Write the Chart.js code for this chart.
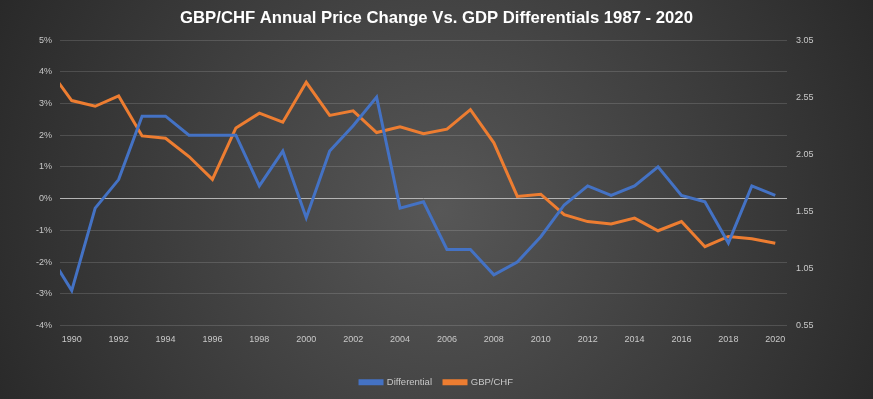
<!DOCTYPE html>
<html>
<head>
<meta charset="utf-8">
<script src="https://cdn.jsdelivr.net/npm/chart.js@4/dist/chart.umd.min.js"></script>
<style>
html,body{margin:0;padding:0;background:#262626;}
#wrap{width:873px;height:399px;position:relative;}
</style>
</head>
<body>
<div id="wrap"><canvas id="c" width="873" height="399"></canvas></div>
<script>
const years = [1989,1990,1991,1992,1993,1994,1995,1996,1997,1998,1999,2000,2001,2002,2003,2004,2005,2006,2007,2008,2009,2010,2011,2012,2013,2014,2015,2016,2017,2018,2019,2020];
const differential = [-1.7,-2.9,-0.3,0.6,2.6,2.6,2.0,2.0,2.0,0.4,1.5,-0.6,1.5,2.3,3.2,-0.3,-0.1,-1.6,-1.6,-2.4,-2.0,-1.2,-0.2,0.4,0.1,0.4,1.0,0.1,-0.1,-1.4,0.4,0.1];
const gbpchf = [2.80,2.52,2.47,2.56,2.21,2.19,2.03,1.83,2.28,2.41,2.33,2.68,2.39,2.43,2.24,2.29,2.23,2.27,2.44,2.15,1.68,1.70,1.52,1.46,1.44,1.49,1.38,1.46,1.24,1.33,1.31,1.27];
const xTicks = [1990,1992,1994,1996,1998,2000,2002,2004,2006,2008,2010,2012,2014,2016,2018,2020];
const leftTicks = [-4,-3,-2,-1,0,1,2,3,4,5];
const rightTicks = [0.55,1.05,1.55,2.05,2.55,3.05];

const bgPlugin = {
  id:'bg',
  beforeDraw(chart){
    const ctx = chart.ctx, w = chart.width, h = chart.height;
    ctx.save();
    const g = ctx.createRadialGradient(440,210,0,440,210,520);
    g.addColorStop(0,'#575757');
    g.addColorStop(1,'#262626');
    ctx.fillStyle = g;
    ctx.fillRect(0,0,w,h);
    ctx.restore();
  }
};

const tickFont = {family:'"Liberation Sans", Arial, sans-serif', size:9};
const tickColor = '#c8c8c8';

new Chart(document.getElementById('c'), {
  type:'line',
  data:{
    datasets:[
      {label:'Differential', data: years.map((y,i)=>({x:y,y:differential[i]})), borderColor:'#4472C4', backgroundColor:'#4472C4', borderWidth:3, pointRadius:0, tension:0, yAxisID:'y'},
      {label:'GBP/CHF', data: years.map((y,i)=>({x:y,y:gbpchf[i]})), borderColor:'#ED7D31', backgroundColor:'#ED7D31', borderWidth:3, pointRadius:0, tension:0, yAxisID:'y2'}
    ]
  },
  options:{
    responsive:false,
    animation:false,
    layout:{padding:{left:0,right:0,top:0,bottom:2}},
    plugins:{
      title:{display:true, text:'GBP/CHF Annual Price Change Vs. GDP Differentials 1987 - 2020', color:'#ffffff',
        font:{family:'"Liberation Sans", Arial, sans-serif', size:16.7, weight:'bold'}, padding:{top:8,bottom:12}},
      legend:{position:'bottom', labels:{color:tickColor, font:{family:'"Liberation Sans", Arial, sans-serif', size:9.5}, boxWidth:22, boxHeight:3, padding:12}},
      tooltip:{enabled:false}
    },
    scales:{
      x:{type:'linear', min:1989.5, max:2020.5,
        afterBuildTicks(s){ s.ticks = xTicks.map(v=>({value:v})); },
        afterFit(s){ s.height = 40; },
        ticks:{color:tickColor, font:tickFont, maxRotation:0, autoSkip:false, callback:v=>String(v), padding:9},
        grid:{display:false, drawTicks:false}, border:{display:false}},
      y:{position:'left', min:-4, max:5,
        afterBuildTicks(s){ s.ticks = leftTicks.map(v=>({value:v})); },
        afterFit(s){ s.width = 60; },
        ticks:{color:tickColor, font:tickFont, callback:v=>v+'%', padding:8},
        grid:{drawTicks:false, color:c=> c.tick && c.tick.value===0 ? '#b4b4b4' : 'rgba(255,255,255,0.14)', lineWidth:1},
        border:{display:false}},
      y2:{position:'right', min:0.55, max:3.05,
        afterBuildTicks(s){ s.ticks = rightTicks.map(v=>({value:v})); },
        afterFit(s){ s.width = 86; },
        ticks:{color:tickColor, font:tickFont, callback:v=>v.toFixed(2), padding:9},
        grid:{display:false, drawTicks:false}, border:{display:false}}
    }
  },
  plugins:[bgPlugin]
});
</script>
</body>
</html>
